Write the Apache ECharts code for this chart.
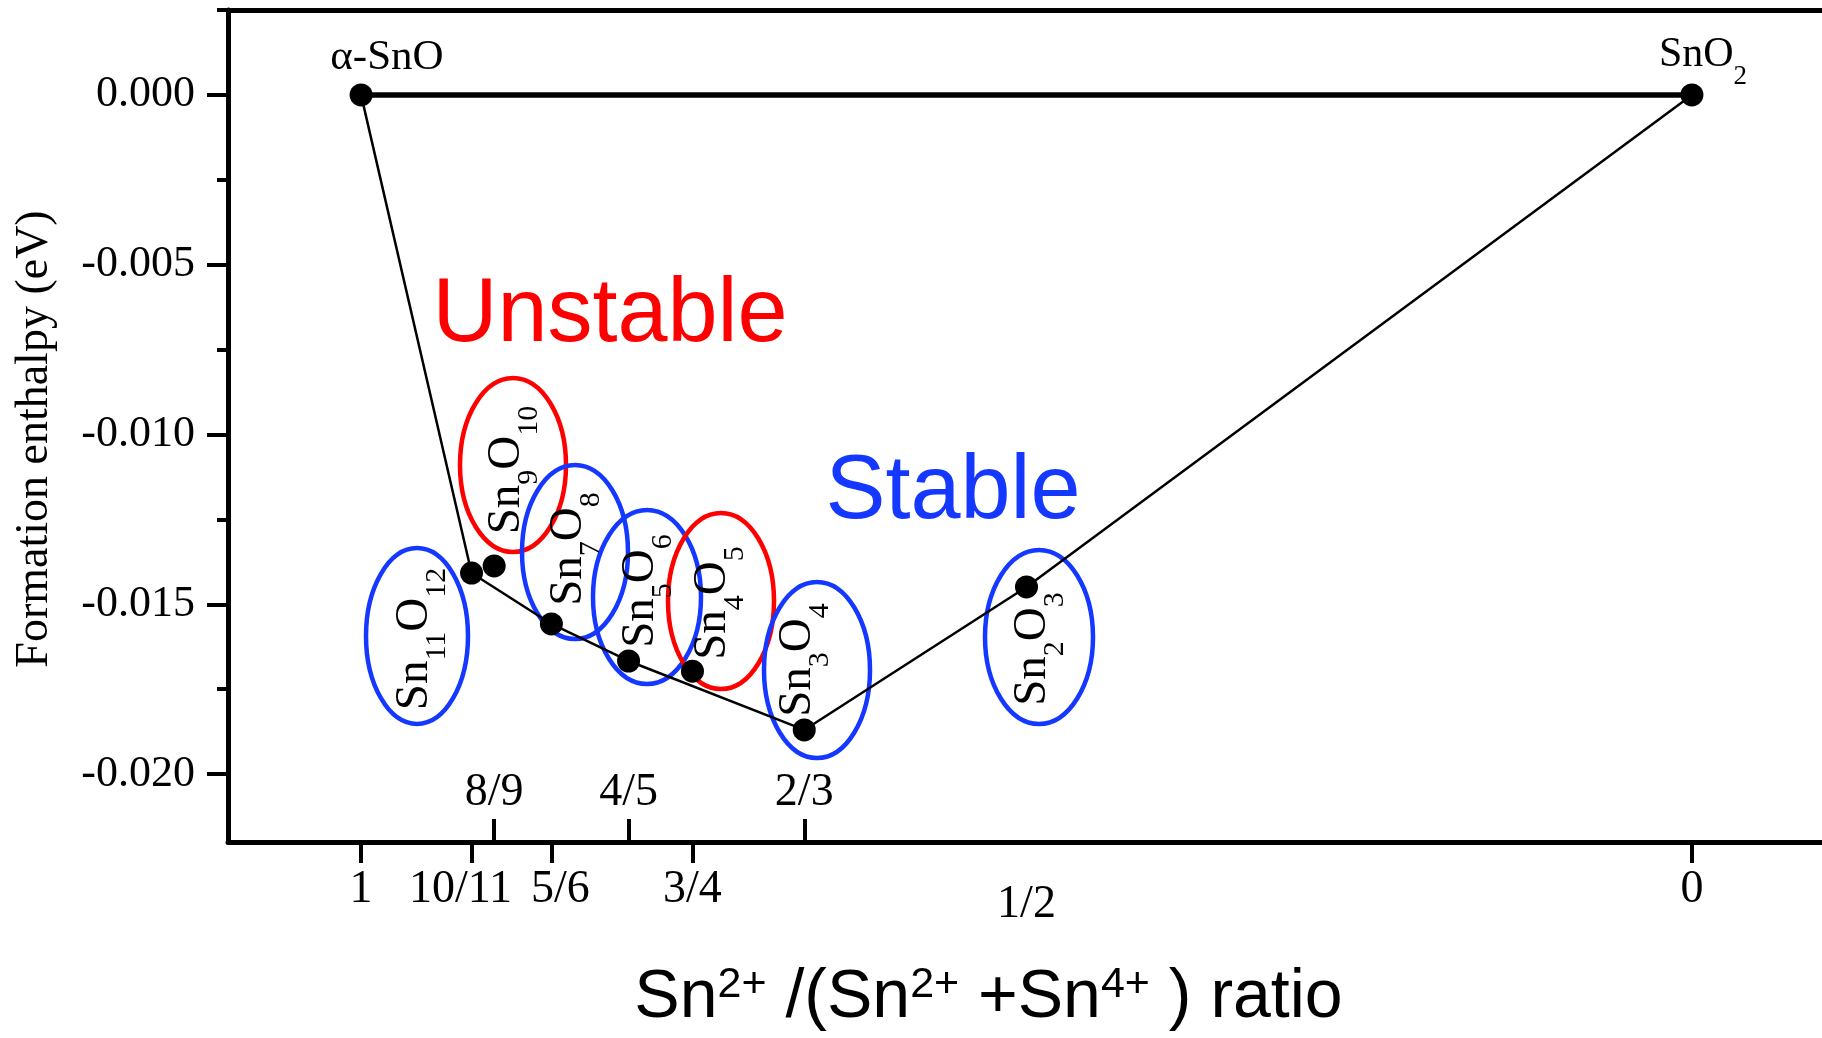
<!DOCTYPE html>
<html>
<head>
<meta charset="utf-8">
<script src="https://cdn.jsdelivr.net/npm/echarts@6/dist/echarts.min.js"></script>
<style>
  html, body { margin: 0; padding: 0; background: #fff; }
  #chart { width: 1822px; height: 1038px; }
</style>
</head>
<body>
<div id="chart"></div>
<script>
// phases along the Sn2+/(Sn2+ + Sn4+) axis, positions as drawn in the figure
const phases   = ['α-SnO', 'Sn11O12', 'Sn9O10', 'Sn7O8', 'Sn5O6', 'Sn4O5', 'Sn3O4', 'Sn2O3', 'SnO2'];
const ratioPos = [1, 0.917, 0.900, 0.857, 0.799, 0.751, 0.667, 0.500, 0];
const enthalpy = [0, -0.01408, -0.01387, -0.01558, -0.01667, -0.01697, -0.01870, -0.01449, 0];
const onHull   = [true, true, false, true, true, false, true, true, true];

// x axis ticks (outward, labels below) and inward ticks (labels above)
const lowerTickValues  = [1, 0.917, 0.857, 0.751, 0];
const lowerLabelValues = [1, 0.917, 0.857, 0.751, 0.5, 0];
const lowerLabels      = ['1', '10/11', '5/6', '3/4', '1/2', '0'];
const upperTickValues  = [0.900, 0.799, 0.667];
const upperLabels      = ['8/9', '4/5', '2/3'];

// y axis ticks
const yMajor = [0, -0.005, -0.010, -0.015, -0.020];
const yMinor = [0.0025, -0.0025, -0.0075, -0.0125, -0.0175];

const SERIF = '"Liberation Serif", "Times New Roman", serif';
const SANS = '"Liberation Sans", Arial, sans-serif';
const BLUE = '#1438ff';
const RED = '#ff0000';

const chart = echarts.init(document.getElementById('chart'));

const hullData = [];
ratioPos.forEach((x, i) => { if (onHull[i]) hullData.push([x, enthalpy[i]]); });
const pointData = ratioPos.map((x, i) => [x, enthalpy[i]]);
const baseData = [[ratioPos[0], enthalpy[0]], [ratioPos[ratioPos.length - 1], enthalpy[enthalpy.length - 1]]];

function pickLabel(values, labels, v) {
  let best = 0;
  values.forEach((t, i) => { if (Math.abs(t - v) < Math.abs(values[best] - v)) best = i; });
  return labels[best];
}

const tickFont = { fontFamily: SERIF, fontSize: 46, color: '#000' };

// chemical formula -> rich text with subscripts
function formula(name) {
  return name.replace(/([A-Z][a-z]?)(\d*)/g, (m, el, n) => '{m|' + el + '}' + (n ? '{s|' + n + '}' : ''));
}

// annotation bubbles around the formula labels (pixel layout)
const bubbles = [
  { name: 'Sn11O12', color: BLUE, cx: 417,  cy: 636, rx: 51, ry: 88, tx: 422,  ty: 639 },
  { name: 'Sn9O10',  color: RED,  cx: 513,  cy: 465, rx: 53, ry: 87, tx: 514,  ty: 470 },
  { name: 'Sn7O8',   color: BLUE, cx: 575,  cy: 552, rx: 53, ry: 87, tx: 576,  ty: 549 },
  { name: 'Sn5O6',   color: BLUE, cx: 647,  cy: 597, rx: 54, ry: 87, tx: 648,  ty: 591 },
  { name: 'Sn4O5',   color: RED,  cx: 721,  cy: 601, rx: 53, ry: 88, tx: 720,  ty: 603 },
  { name: 'Sn3O4',   color: BLUE, cx: 817,  cy: 670, rx: 53, ry: 88, tx: 805,  ty: 660 },
  { name: 'Sn2O3',   color: BLUE, cx: 1039, cy: 637, rx: 54, ry: 87, tx: 1040, ty: 649 }
];

const graphics = [];
bubbles.forEach(b => {
  graphics.push({
    type: 'ellipse', z: 1,
    shape: { cx: b.cx, cy: b.cy, rx: b.rx, ry: b.ry },
    style: { fill: 'none', stroke: b.color, lineWidth: 4.5 }
  });
  graphics.push({
    type: 'text', z: 5, x: b.tx, y: b.ty, rotation: Math.PI / 2,
    style: {
      text: formula(b.name), align: 'center', verticalAlign: 'middle',
      rich: {
        m: { fontFamily: SERIF, fontSize: 47, lineHeight: 61, verticalAlign: 'top', fill: '#000' },
        s: { fontFamily: SERIF, fontSize: 30, lineHeight: 30, verticalAlign: 'bottom', fill: '#000' }
      }
    }
  });
});
graphics.push({
  type: 'text', z: 5, x: 387, y: 58,
  style: { text: 'α-SnO', fontFamily: SERIF, fontSize: 43, fill: '#000', align: 'center', verticalAlign: 'middle' }
});
graphics.push({
  type: 'text', z: 5, x: 1703, y: 62,
  style: {
    text: formula('SnO2'), align: 'center', verticalAlign: 'middle',
    rich: {
      m: { fontFamily: SERIF, fontSize: 42, lineHeight: 57, verticalAlign: 'top', fill: '#000' },
      s: { fontFamily: SERIF, fontSize: 27, lineHeight: 27, verticalAlign: 'bottom', fill: '#000' }
    }
  }
});
graphics.push({
  type: 'text', z: 5, x: 610, y: 316,
  style: { text: 'Unstable', fontFamily: SANS, fontSize: 90, fill: RED, align: 'center', verticalAlign: 'middle' }
});
graphics.push({
  type: 'text', z: 5, x: 953, y: 493,
  style: { text: 'Stable', fontFamily: SANS, fontSize: 90, fill: BLUE, align: 'center', verticalAlign: 'middle' }
});

const xBase = { type: 'value', min: -0.1, max: 1.1, inverse: true, splitLine: { show: false } };
const yBase = { type: 'value', min: -0.022, max: 0.0025, splitLine: { show: false } };

const option = {
  animation: false,
  backgroundColor: '#fff',
  grid: { left: 228, right: -3, top: 10, bottom: 196, containLabel: false, outerBoundsMode: 'none' },
  xAxis: [
    Object.assign({}, xBase, {
      position: 'bottom',
      name: '{m|Sn}{p|2+}{m| /(Sn}{p|2+}{m| +Sn}{p|4+}{m| ) ratio}',
      nameLocation: 'middle',
      nameGap: 122,
      nameMoveOverlap: false,
      nameTextStyle: {
        padding: [0, 76, 0, 0],
        rich: {
          m: { fontFamily: SANS, fontSize: 68, lineHeight: 68, verticalAlign: 'bottom', color: '#000' },
          p: { fontFamily: SANS, fontSize: 43, lineHeight: 36, verticalAlign: 'top', color: '#000' }
        }
      },
      axisLine: { show: true, onZero: false, lineStyle: { color: '#000', width: 5 } },
      axisTick: { show: true, inside: false, length: 21, customValues: lowerTickValues, lineStyle: { color: '#000', width: 4 } },
      axisLabel: Object.assign({}, tickFont, {
        show: true, margin: 25, customValues: lowerLabelValues,
        formatter: v => {
          const t = pickLabel(lowerLabelValues, lowerLabels, v);
          if (t === '10/11') return '{l|' + t + '}';
          if (t === '5/6') return '{r|' + t + '}';
          if (t === '1/2') return '{d|' + t + '}';
          return t;
        },
        rich: {
          l: Object.assign({}, tickFont, { padding: [0, 22, 0, 0] }),
          r: Object.assign({}, tickFont, { padding: [0, 0, 0, 18] }),
          d: Object.assign({}, tickFont, { padding: [15, 0, 0, 0] })
        }
      })
    }),
    Object.assign({}, xBase, {
      position: 'bottom',
      axisLine: { show: false, onZero: false },
      axisTick: { show: true, inside: true, length: 23, customValues: upperTickValues, lineStyle: { color: '#000', width: 4 } },
      axisLabel: Object.assign({}, tickFont, {
        show: true, inside: true, margin: 26, customValues: upperTickValues,
        formatter: v => pickLabel(upperTickValues, upperLabels, v)
      })
    }),
    Object.assign({}, xBase, {
      position: 'top',
      axisLine: { show: true, onZero: false, lineStyle: { color: '#000', width: 5 } },
      axisTick: { show: false },
      axisLabel: { show: false }
    })
  ],
  yAxis: [
    Object.assign({}, yBase, {
      position: 'left',
      name: 'Formation enthalpy (eV)',
      nameLocation: 'middle',
      nameGap: 170,
      nameMoveOverlap: false,
      nameTextStyle: { fontFamily: SERIF, fontSize: 46, color: '#000', padding: [0, 26, 0, 0] },
      axisLine: { show: true, onZero: false, lineStyle: { color: '#000', width: 5 } },
      axisTick: { show: true, inside: false, length: 21, customValues: yMajor, lineStyle: { color: '#000', width: 4 } },
      axisLabel: {
        show: true, margin: 33, customValues: yMajor,
        fontFamily: SERIF, fontSize: 44, color: '#000',
        formatter: v => v.toFixed(3)
      }
    }),
    Object.assign({}, yBase, {
      position: 'left',
      axisLine: { show: false, onZero: false },
      axisTick: { show: true, inside: false, length: 11, customValues: yMinor, lineStyle: { color: '#000', width: 4 } },
      axisLabel: { show: false }
    })
  ],
  graphic: { elements: graphics },
  series: [
    {
      name: 'reference', type: 'line', data: baseData, symbol: 'none', z: 2,
      lineStyle: { color: '#000', width: 5.5 }
    },
    {
      name: 'hull', type: 'line', data: hullData, symbol: 'none', z: 2,
      lineStyle: { color: '#000', width: 2.5 }
    },
    {
      name: 'phases', type: 'scatter', data: pointData, symbol: 'circle', symbolSize: 23, z: 3,
      itemStyle: { color: '#000', opacity: 1 }
    }
  ]
};

chart.setOption(option);
window.addEventListener('resize', () => chart.resize());
</script>
</body>
</html>
